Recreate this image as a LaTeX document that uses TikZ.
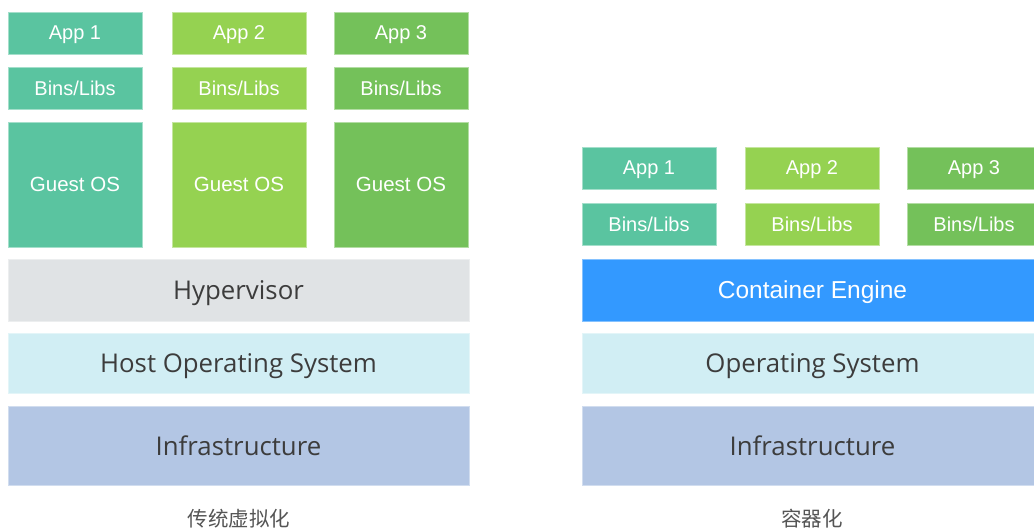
\documentclass[tikz,border=0pt]{standalone}
\usepackage{fontspec}
\setmainfont{Liberation Sans}
\newfontfamily\segoe{Open Sans}
\newfontfamily\cjk{Noto Sans CJK SC}
\definecolor{cteal}{HTML}{5AC4A0}
\definecolor{clime}{HTML}{95D251}
\definecolor{cgreen}{HTML}{74C15A}
\definecolor{chyper}{HTML}{E0E3E5}
\definecolor{chost}{HTML}{D1EEF4}
\definecolor{cinfra}{HTML}{B3C6E4}
\definecolor{cengine}{HTML}{3399FF}
\definecolor{ctext}{HTML}{3C3C3C}
\definecolor{ccap}{HTML}{555555}
\begin{document}
\begin{tikzpicture}[x=1pt,y=-1pt,
  blk/.style={anchor=north west, inner sep=0pt, outer sep=0pt, line width=0.8pt, text depth=0pt},
  appbox/.style={blk, minimum width=134pt, minimum height=42pt, text=white, font=\fontsize{20}{24}\selectfont},
  osbox/.style={blk, minimum width=134pt, minimum height=125pt, text=white, font=\fontsize{20.5}{24}\selectfont},
  layer/.style={blk, minimum width=461pt, text=ctext, font=\segoe\fontsize{25.8}{30}\selectfont},
  tealc/.style={fill=cteal, draw=cteal!55!white},
  limec/.style={fill=clime, draw=clime!55!white},
  greenc/.style={fill=cgreen, draw=cgreen!55!white},
  caption/.style={text=ccap, font=\cjk\fontsize{20.5}{24}\selectfont}
]
\useasboundingbox (0,0) rectangle (1034,529);
% ---- traditional virtualisation ----
\node[appbox,tealc]  (a1) at (8,12)  {App 1};
\node[appbox,limec]  (a2) at (172,12) {App 2};
\node[appbox,greenc] (a3) at (334,12) {App 3};
\node[appbox,tealc]  (b1) at (8,67)  {Bins/Libs};
\node[appbox,limec]  (b2) at (172,67) {Bins/Libs};
\node[appbox,greenc] (b3) at (334,67) {Bins/Libs};
\node[osbox,tealc]   (g1) at (8,122)  {Guest OS};
\node[osbox,limec]   (g2) at (172,122) {Guest OS};
\node[osbox,greenc]  (g3) at (334,122) {Guest OS};
\node[layer, minimum height=62pt, fill=chyper, draw=chyper!60!white] (hyp) at (8,259) {Hypervisor};
\node[layer, minimum height=60pt, fill=chost, draw=chost!60!white] (host) at (8,333) {Host Operating System};
\node[layer, minimum height=79pt, fill=cinfra, draw=cinfra!60!white] (inf1) at (8,406) {Infrastructure};
\node[caption] (cap1) at (239,519) {传统虚拟化};
% ---- containerisation ----
\node[appbox,tealc]  (c1) at (582,147) {App 1};
\node[appbox,limec]  (c2) at (745,147) {App 2};
\node[appbox,greenc] (c3) at (907,147) {App 3};
\node[appbox,tealc]  (d1) at (582,203) {Bins/Libs};
\node[appbox,limec]  (d2) at (745,203) {Bins/Libs};
\node[appbox,greenc] (d3) at (907,203) {Bins/Libs};
\node[layer, minimum height=62pt, fill=cengine, draw=cengine!60!white, text=white, font=\fontsize{24.5}{28}\selectfont] (eng) at (582,259) {Container Engine};
\node[layer, minimum height=60pt, fill=chost, draw=chost!60!white] (os) at (582,333) {Operating System};
\node[layer, minimum height=79pt, fill=cinfra, draw=cinfra!60!white] (inf2) at (582,406) {Infrastructure};
\node[caption] (cap2) at (812,519) {容器化};
\end{tikzpicture}
\end{document}
